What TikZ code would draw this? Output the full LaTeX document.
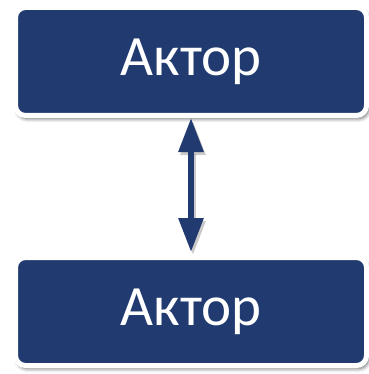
\documentclass[tikz,border=0pt]{standalone}
\usepackage{fontspec}
\setmainfont{Carlito}
\usetikzlibrary{arrows.meta,shadows.blur}
\definecolor{navy}{HTML}{213A70}
\begin{document}
\begin{tikzpicture}[x=1pt,y=-1pt,
  actorbox/.style={rectangle, rounded corners=10pt, fill=navy, draw=white,
    line width=5pt, minimum width=351pt, minimum height=108pt,
    text=white, font=\fontsize{57}{60}\selectfont,
    blur shadow={shadow xshift=2pt, shadow yshift=-3pt, shadow blur radius=4pt,
      shadow blur steps=8, shadow opacity=60}},
  link/.style={line width=6pt, navy,
    {Triangle[width=24pt,length=34pt]}-{Triangle[width=24pt,length=34pt]}}]
  \useasboundingbox (0,0) rectangle (368,374);
  \node[actorbox] (top) at (191,61.5) {Актор};
  \node[actorbox] (bottom) at (191,311.5) {Актор};
  % soft shadow under the connector
  \draw[link, black!60, opacity=0.35, transform canvas={shift={(2pt,-3pt)}}]
    (top.south) -- ([yshift=3pt]bottom.north);
  \draw[link] (top.south) -- ([yshift=3pt]bottom.north);
\end{tikzpicture}
\end{document}
